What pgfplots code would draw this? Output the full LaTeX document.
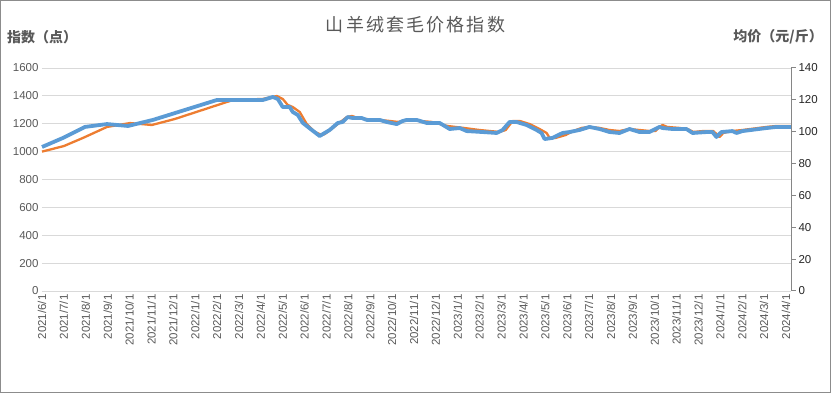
\documentclass[border=0pt]{standalone}
\usepackage{pgfplots}
\pgfplotsset{compat=1.18}
\usepackage{fontspec}
\setmainfont{Liberation Sans}
\newfontfamily\cjk{Noto Sans CJK SC}
\newfontfamily\cjkt{Noto Sans CJK SC}[LetterSpace=12]
\definecolor{txt}{HTML}{595959}
\definecolor{gridc}{HTML}{D9D9D9}
\definecolor{bl}{HTML}{5B9BD5}
\definecolor{orc}{HTML}{ED7D31}
\definecolor{axc}{HTML}{868686}
\begin{document}
\begin{tikzpicture}[x=1pt,y=1pt]
\useasboundingbox (0,0) rectangle (831,393);
\draw[black!45, line width=1pt] (0.5,0.5) rectangle (830.5,392.5);
\node[text=txt, font=\cjkt\fontsize{18}{21}\selectfont] at (415.5,368) {山羊绒套毛价格指数};
\node[text=txt, anchor=west, inner sep=0pt, font=\cjk\bfseries\fontsize{14}{16}\selectfont] at (7,356) {指数（点）};
\node[text=txt, anchor=east, inner sep=0pt, font=\cjk\bfseries\fontsize{14}{16}\selectfont] at (823,356) {均价（元/斤）};
\begin{axis}[at={(42pt,102pt)}, anchor=origin, scale only axis, width=749pt, height=223pt,
  xmin=0, xmax=34.23, ymin=0, ymax=1600, ytick={0,200,...,1600},
  axis line style={draw=none}, tick style={draw=none},
  ymajorgrids, grid style={gridc, line width=0.8pt},
  xtick={0,...,34},
  xticklabels={2021/6/1,2021/7/1,2021/8/1,2021/9/1,2021/10/1,2021/11/1,2021/12/1,2022/1/1,2022/2/1,2022/3/1,2022/4/1,2022/5/1,2022/6/1,2022/7/1,2022/8/1,2022/9/1,2022/10/1,2022/11/1,2022/12/1,2023/1/1,2023/2/1,2023/3/1,2023/4/1,2023/5/1,2023/6/1,2023/7/1,2023/8/1,2023/9/1,2023/10/1,2023/11/1,2023/12/1,2024/1/1,2024/2/1,2024/3/1,2024/4/1},
  xticklabel style={rotate=90, anchor=east, text=txt, font=\fontsize{11.5}{13}\selectfont},
  yticklabel style={text=txt, font=\fontsize{11.5}{13}\selectfont},
  /pgf/number format/assume math mode=true,
  y tick label style={/pgf/number format/1000 sep={}},
  clip=false]
\addplot[orc, line width=2.3pt, line join=round] coordinates {
(0,1000)(1.0,1040)(1.87,1098)(2.97,1177)(4.02,1205)(5.02,1191)(6.07,1234)(8.72,1370)(10.09,1378)(10.73,1399)(11.0,1378)(11.23,1335)(11.46,1320)(11.78,1284)(12.1,1198)(12.47,1141)(12.79,1119)(12.92,1126)(13.29,1170)(13.93,1248)(14.16,1256)(14.43,1241)(14.79,1234)(15.43,1227)(15.89,1220)(16.26,1213)(16.53,1220)(16.8,1227)(17.26,1220)(17.81,1213)(18.17,1198)(18.54,1184)(18.9,1177)(19.27,1170)(20.0,1155)(20.91,1141)(21.19,1155)(21.51,1220)(21.83,1220)(22.28,1198)(22.74,1162)(23.06,1134)(23.2,1098)(23.47,1098)(23.93,1119)(24.29,1148)(24.66,1170)(25.02,1177)(25.48,1170)(25.94,1155)(26.39,1148)(26.85,1162)(27.31,1155)(27.76,1148)(28.04,1148)(28.22,1177)(28.36,1191)(28.58,1177)(29.13,1170)(29.5,1162)(29.77,1141)(30.23,1148)(30.68,1148)(30.96,1105)(31.14,1134)(31.55,1148)(32.01,1155)(33.11,1177)(33.56,1184)(34.23,1184)
};
\end{axis}
\begin{axis}[at={(42pt,102pt)}, anchor=origin, scale only axis, width=749pt, height=223pt,
  xmin=0, xmax=34.23, ymin=0, ymax=140, ytick={0,20,...,140},
  axis x line=none, axis y line*=right,
  axis line style={draw=none}, tick style={draw=none},
  yticklabel style={text=black!85, font=\fontsize{11.5}{13}\selectfont, xshift=4pt},
  /pgf/number format/assume math mode=true,
  clip=false]
\addplot[bl, line width=3.8pt, line join=round] coordinates {
(0,90.4)(0.96,96.1)(1.96,103.0)(2.97,104.8)(3.93,103.6)(5.07,107.4)(7.99,119.9)(10.09,119.9)(10.55,121.8)(10.78,120.5)(11.0,115.5)(11.32,115.5)(11.46,112.4)(11.69,110.5)(11.92,105.5)(12.33,101.1)(12.69,97.3)(13.15,101.1)(13.52,105.5)(13.74,106.1)(13.97,109.2)(14.2,108.6)(14.61,108.6)(14.84,107.4)(15.43,107.4)(15.75,106.1)(16.21,104.8)(16.48,106.7)(16.67,107.4)(17.12,107.4)(17.58,105.5)(18.17,105.5)(18.63,101.7)(19.09,102.3)(19.41,100.4)(20.14,99.8)(20.78,99.2)(21.05,101.1)(21.37,106.1)(21.69,106.1)(22.15,104.2)(22.6,101.1)(22.83,99.2)(22.97,95.4)(23.33,96.1)(23.79,99.2)(24.11,99.8)(24.57,101.1)(25.02,103.0)(25.48,101.7)(25.94,99.8)(26.39,99.2)(26.85,101.7)(27.31,99.8)(27.76,99.8)(28.22,103.0)(28.36,102.3)(28.81,101.7)(29.45,101.7)(29.73,99.2)(30.37,99.8)(30.64,99.8)(30.82,96.7)(31.05,99.8)(31.55,100.4)(31.74,99.2)(32.01,100.4)(33.11,102.3)(33.56,103.0)(34.23,103.0)
};
\end{axis}
\draw[axc, line width=1pt] (791,102) -- (791,325);
\draw[axc, line width=1pt] (791,102) -- (796,102);
\draw[axc, line width=1pt] (791,133.86) -- (796,133.86);
\draw[axc, line width=1pt] (791,165.71) -- (796,165.71);
\draw[axc, line width=1pt] (791,197.57) -- (796,197.57);
\draw[axc, line width=1pt] (791,229.43) -- (796,229.43);
\draw[axc, line width=1pt] (791,261.29) -- (796,261.29);
\draw[axc, line width=1pt] (791,293.14) -- (796,293.14);
\draw[axc, line width=1pt] (791,325) -- (796,325);
\end{tikzpicture}
\end{document}
